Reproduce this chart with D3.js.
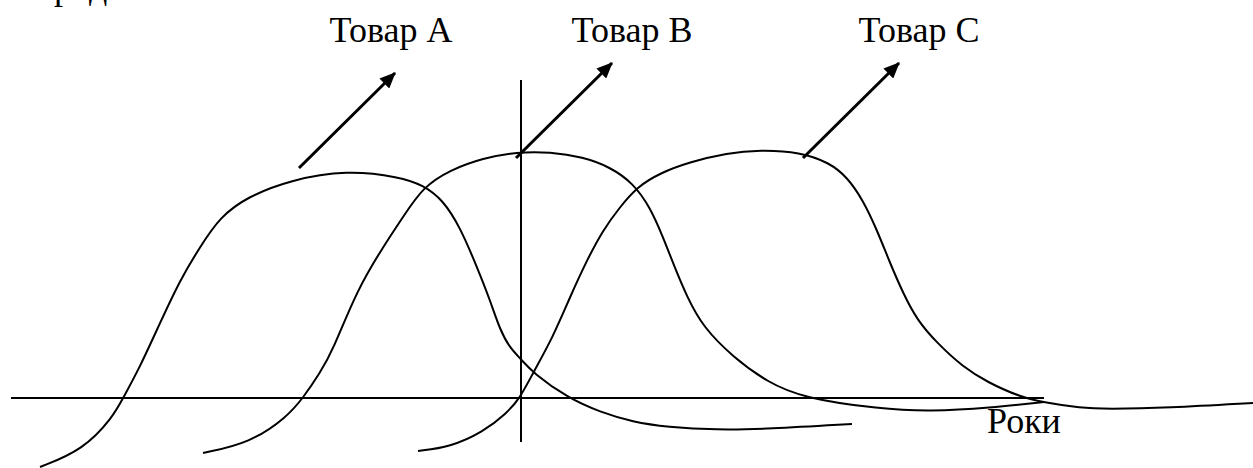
<!DOCTYPE html>
<html>
<head>
<meta charset="utf-8">
<script src="https://cdn.jsdelivr.net/npm/d3@7"></script>
<style>
    body { margin: 0; background: #fff; }
    svg { display: block; }
    .curve { fill: none; stroke: #000; stroke-width: 2; }
    .axis-line { stroke: #000; stroke-width: 2; }
    .arrow { stroke: #000; stroke-width: 3; }
    text { font-family: "Liberation Serif", "Times New Roman", serif; font-size: 36px; fill: #000; }
</style>
</head>
<body>
<div id="chart"></div>
<script>
// product life cycles, x = years (0 at the vertical line), y = sales
const productNames = ['Товар A', 'Товар B', 'Товар C']

const productA = [
    [-9.62, -2.76], [-8.76, -2.08], [-8.16, -0.76], [-7.96, 0], [-7.62, 1.24],
    [-7.22, 3.0], [-6.82, 4.72], [-6.42, 6.04], [-6.02, 7.24], [-5.48, 8.04],
    [-4.62, 8.72], [-3.48, 9.12], [-2.42, 8.84], [-1.96, 8.52], [-1.56, 7.92],
    [-1.22, 6.84], [-0.88, 5.24], [-0.62, 3.92], [-0.42, 2.72], [-0.22, 2.0],
    [-0.02, 1.6], [0.24, 1.0], [0.94, 0], [1.58, -0.56], [2.24, -0.96],
    [2.92, -1.16], [3.92, -1.28], [4.92, -1.24], [6.62, -1.04]
]

const productB = [
    [-6.36, -2.2], [-5.42, -1.8], [-4.68, -0.76], [-4.36, 0], [-4.02, 1.0],
    [-3.76, 1.92], [-3.28, 4.32], [-2.76, 6.04], [-2.36, 7.24], [-1.96, 8.44],
    [-1.42, 9.12], [-0.76, 9.6], [-0.08, 9.84], [0.58, 9.84], [1.24, 9.64],
    [1.78, 9.24], [2.24, 8.6], [2.58, 7.64], [2.84, 6.44], [3.04, 5.4],
    [3.32, 4.04], [3.64, 2.84], [4.24, 1.64], [4.92, 0.64], [5.64, 0],
    [7.18, -0.44], [8.18, -0.54], [9.38, -0.4], [10.46, -0.16]
]

const productC = [
    [-2.06, -2.12], [-1.42, -1.96], [-0.76, -1.36], [-0.28, -0.6], [-0.02, 0],
    [0.24, 1.0], [0.64, 2.44], [0.98, 4.04], [1.32, 5.52], [1.64, 6.72],
    [1.98, 7.64], [2.32, 8.44], [2.78, 9.0], [3.38, 9.44], [4.12, 9.8],
    [4.78, 9.92], [5.58, 9.84], [6.18, 9.4], [6.52, 8.84], [6.84, 7.92],
    [7.12, 6.72], [7.38, 5.4], [7.64, 4.2], [7.92, 3.12], [8.32, 2.2],
    [8.84, 1.24], [9.32, 0.64], [9.98, 0.04], [10.52, -0.2], [11.18, -0.4],
    [11.72, -0.44], [12.92, -0.4], [14.64, -0.2]
]

// arrows from each curve up to its label: [from, to]
const arrowLinks = [
    [[-4.44, 9.2], [-2.52, 13.0]],
    [[-0.1, 9.6], [1.82, 13.4]],
    [[5.64, 9.6], [7.56, 13.4]]
]

const xAxisExtent = [-10.2, 10.46]
const yAxisExtent = [-1.76, 12.72]
const xAxisTitle = 'Роки'
const yAxisTitle = 'Продаж'

class LifeCycleChart {
    constructor(_config) {
        this.config = {
            parentElement: _config.parentElement,
            containerWidth: _config.containerWidth || 1253,
            containerHeight: _config.containerHeight || 468
        }
        this.initVis()
    }

    initVis() {
        let vis = this

        vis.svg = d3.select(vis.config.parentElement).append('svg')
            .attr('width', vis.config.containerWidth)
            .attr('height', vis.config.containerHeight)

        vis.xScale = d3.scaleLinear()
            .domain([-10.42, 14.64])
            .range([0, vis.config.containerWidth])
        vis.yScale = d3.scaleLinear()
            .domain([-2.8, 15.92])
            .range([vis.config.containerHeight, 0])

        vis.line = d3.line()
            .x(d => vis.xScale(d[0]))
            .y(d => vis.yScale(d[1]))
            .curve(d3.curveBasis)

        vis.svg.append('defs').append('marker')
            .attr('id', 'head')
            .attr('markerUnits', 'userSpaceOnUse')
            .attr('viewBox', '0 0 16 14')
            .attr('refX', 15)
            .attr('refY', 7)
            .attr('markerWidth', 16)
            .attr('markerHeight', 14)
            .attr('orient', 'auto')
          .append('path')
            .attr('d', 'M0,0 L16,7 L0,14 Z')
            .attr('fill', '#000')

        vis.chart = vis.svg.append('g')
    }

    renderVis() {
        let vis = this
        let x = vis.xScale, y = vis.yScale

        // axes
        vis.chart.append('line')
            .attr('class', 'axis-line')
            .attr('x1', x(xAxisExtent[0])).attr('x2', x(xAxisExtent[1]))
            .attr('y1', y(0)).attr('y2', y(0))
        vis.chart.append('line')
            .attr('class', 'axis-line')
            .attr('x1', x(0)).attr('x2', x(0))
            .attr('y1', y(yAxisExtent[0])).attr('y2', y(yAxisExtent[1]))

        // curves
        vis.chart.selectAll('.curve')
            .data([productA, productB, productC])
            .join('path')
            .attr('class', 'curve')
            .attr('d', d => vis.line(d))

        // arrows
        vis.chart.selectAll('.arrow')
            .data(arrowLinks)
            .join('line')
            .attr('class', 'arrow')
            .attr('x1', d => x(d[0][0])).attr('y1', d => y(d[0][1]))
            .attr('x2', d => x(d[1][0])).attr('y2', d => y(d[1][1]))
            .attr('marker-end', 'url(#head)')

        // labels on one line above the arrows
        const labelShift = [-4, 20, 20]
        const labelY = y(d3.max(arrowLinks, d => d[1][1])) - 21
        vis.chart.selectAll('.product-label')
            .data(productNames)
            .join('text')
            .attr('class', 'product-label')
            .attr('text-anchor', 'middle')
            .attr('x', (d, i) => x(arrowLinks[i][1][0]) + labelShift[i])
            .attr('y', labelY)
            .text(d => d)

        vis.chart.append('text')
            .attr('x', x(xAxisExtent[1]) - 57)
            .attr('y', y(0) + 35)
            .text(xAxisTitle)

        // title line cut off at the top of the page
        vis.chart.append('text')
            .attr('x', 28)
            .attr('y', -1)
            .text(yAxisTitle)
    }
}

let chart = new LifeCycleChart({ parentElement: '#chart' })
chart.renderVis()
</script>
</body>
</html>
